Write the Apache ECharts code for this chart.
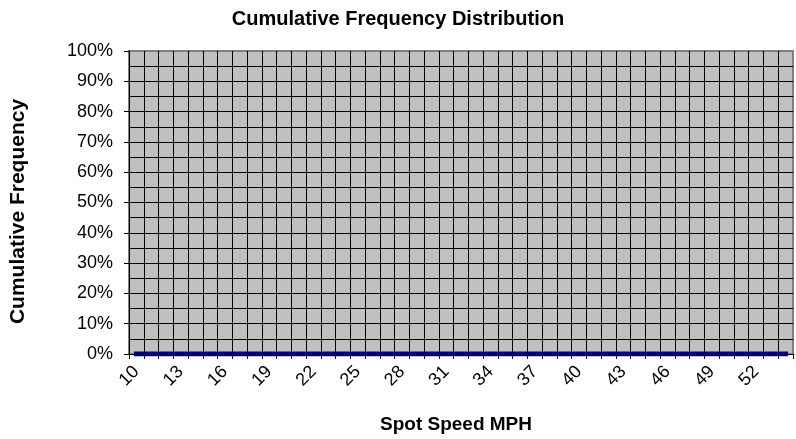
<!DOCTYPE html>
<html>
<head>
<meta charset="utf-8">
<script src="https://cdn.jsdelivr.net/npm/echarts@6/dist/echarts.min.js"></script>
<style>
html,body{margin:0;padding:0;background:#fff;}
#chart{width:796px;height:439px;}
</style>
</head>
<body>
<div id="chart"></div>
<script>
const speeds = ['10','11','12','13','14','15','16','17','18','19','20','21','22','23','24','25','26','27','28','29','30','31','32','33','34','35','36','37','38','39','40','41','42','43','44','45','46','47','48','49','50','51','52','53','54'];
const cumulativeFrequency = [0,0,0,0,0,0,0,0,0,0,0,0,0,0,0,0,0,0,0,0,0,0,0,0,0,0,0,0,0,0,0,0,0,0,0,0,0,0,0,0,0,0,0,0,0];
const yTicks = [0,0.1,0.2,0.3,0.4,0.5,0.6,0.7,0.8,0.9,1];

const FONT = '"Liberation Sans", Arial, sans-serif';
const chart = echarts.init(document.getElementById('chart'), null, {renderer:'canvas'});
chart.setOption({
  animation:false,
  backgroundColor:'#ffffff',
  title:{
    text:'Cumulative Frequency Distribution',
    left:'center', top:4,
    textStyle:{fontFamily:FONT,fontSize:20,fontWeight:'bold',color:'#000'}
  },
  grid:{
    left:124, right:3, top:51, bottom:81,
    show:true, backgroundColor:'#c0c0c0', borderColor:'#808080', borderWidth:2
  },
  xAxis:{
    type:'category',
    data:speeds,
    boundaryGap:true,
    name:'Spot Speed MPH',
    nameLocation:'middle',
    nameGap:61,
    nameTextStyle:{fontFamily:FONT,fontSize:19,fontWeight:'bold',color:'#000',padding:[0,10,0,0]},
    axisLine:{show:true,lineStyle:{color:'#000',width:1}},
    axisTick:{show:true,interval:0,length:5,inside:false,lineStyle:{color:'#000'}},
    axisLabel:{interval:2,rotate:45,margin:15,fontFamily:FONT,fontSize:18,color:'#000'},
    splitLine:{show:true,interval:0,showMinLine:false,showMaxLine:false,lineStyle:{color:'#000',width:1}}
  },
  yAxis:{
    type:'value',
    min:yTicks[0], max:yTicks[yTicks.length-1], interval:0.1,
    name:'Cumulative Frequency',
    nameLocation:'middle',
    nameGap:100,
    nameRotate:90,
    nameTextStyle:{fontFamily:FONT,fontSize:21,fontWeight:'bold',color:'#000',padding:[0,18,0,0]},
    axisLine:{show:true,lineStyle:{color:'#000',width:1}},
    axisTick:{show:true,length:5,lineStyle:{color:'#000'}},
    minorTick:{show:false,splitNumber:2},
    minorSplitLine:{show:true,lineStyle:{color:'#000',width:1}},
    axisLabel:{margin:16,fontFamily:FONT,fontSize:18,color:'#000',
      formatter:v=>Math.round(v*100)+'%'},
    splitLine:{show:true,showMinLine:false,showMaxLine:false,lineStyle:{color:'#000',width:1}}
  },
  series:[{
    type:'line',
    data:cumulativeFrequency,
    symbol:'none',
    lineStyle:{color:'#000080',width:5,cap:'square'},
    itemStyle:{color:'#000080'},
    z:5
  }]
});
</script>
</body>
</html>
